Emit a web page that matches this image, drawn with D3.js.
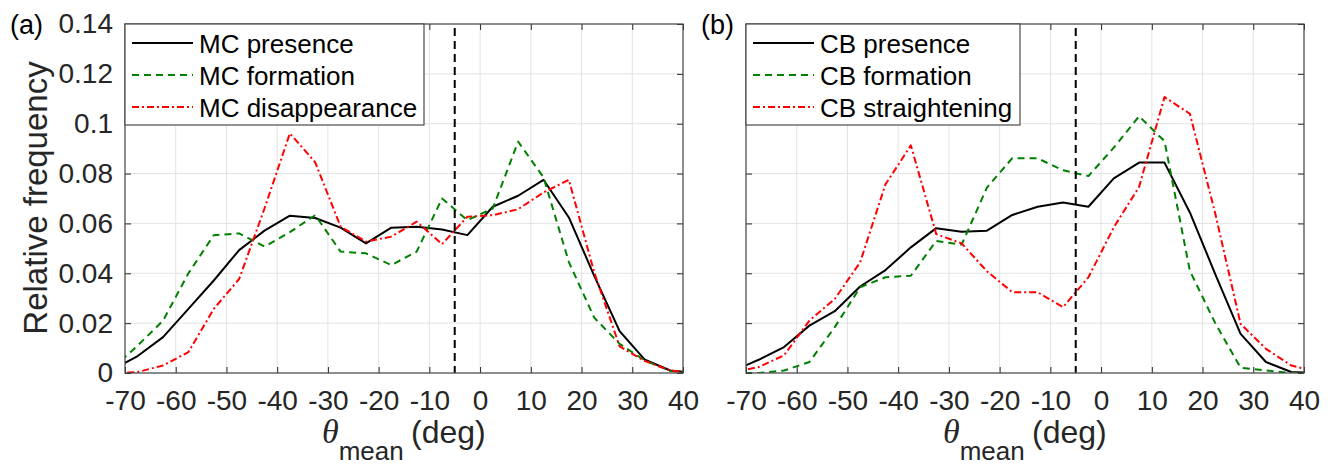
<!DOCTYPE html>
<html>
<head>
<meta charset="utf-8">
<script src="https://cdn.jsdelivr.net/npm/d3@7"></script>
<style>
  body { margin: 0; background: #fff; }
</style>
</head>
<body>
<svg id="chart" width="1337" height="465"></svg>
<script>
// bin centres (deg); first and last fall outside the axes and get clipped
const thetaBins = [-72.5, -67.5, -62.5, -57.5, -52.5, -47.5, -42.5, -37.5, -32.5, -27.5, -22.5, -17.5,
  -12.5, -7.5, -2.5, 2.5, 7.5, 12.5, 17.5, 22.5, 27.5, 32.5, 37.5, 42.5];

// panel (a)
const mcPresence = [0.0014, 0.0068, 0.0144, 0.0257, 0.0371, 0.0493, 0.0571, 0.0631, 0.0622, 0.0583, 0.0520, 0.0583,
  0.0587, 0.0576, 0.0553, 0.0667, 0.0711, 0.0775, 0.0624, 0.0390, 0.0168, 0.0053, 0.0010, 0];
const mcFormation = [0.0018, 0.0110, 0.0210, 0.0400, 0.0553, 0.0560, 0.0507, 0.0565, 0.0633, 0.0487, 0.0480, 0.0433,
  0.0487, 0.0700, 0.0613, 0.0660, 0.0928, 0.0785, 0.0445, 0.0222, 0.0117, 0.0050, 0.0008, 0];
const mcDisappearance = [0, 0.0004, 0.0030, 0.0084, 0.0257, 0.0377, 0.0660, 0.0961, 0.0845, 0.0587, 0.0527, 0.0547,
  0.0607, 0.0517, 0.0627, 0.0633, 0.0657, 0.0724, 0.0775, 0.0404, 0.0107, 0.0048, 0.0010, 0];

// panel (b)
const cbPresence = [0.0009, 0.0053, 0.0104, 0.0190, 0.0248, 0.0347, 0.0413, 0.0504, 0.0581, 0.0567, 0.0571, 0.0634,
  0.0667, 0.0684, 0.0667, 0.0781, 0.0844, 0.0844, 0.0644, 0.0397, 0.0157, 0.0044, 0.0004, 0];
const cbFormation = [0, 0, 0.0010, 0.0044, 0.0184, 0.0344, 0.0384, 0.0390, 0.0530, 0.0515, 0.0744, 0.0862,
  0.0861, 0.0813, 0.0790, 0.0904, 0.1030, 0.0930, 0.0410, 0.0200, 0.0021, 0.0010, 0, 0];
const cbStraightening = [0.0002, 0.0024, 0.0071, 0.0210, 0.0297, 0.0444, 0.0757, 0.0913, 0.0557, 0.0520, 0.0408, 0.0324,
  0.0324, 0.0264, 0.0384, 0.0584, 0.0747, 0.1107, 0.1040, 0.0640, 0.0197, 0.0097, 0.0030, 0.0004];

const mcNames = ["MC presence", "MC formation", "MC disappearance"];
const cbNames = ["CB presence", "CB formation", "CB straightening"];

const xTicks = [-70, -60, -50, -40, -30, -20, -10, 0, 10, 20, 30, 40];
const yTicks = [0, 0.02, 0.04, 0.06, 0.08, 0.1, 0.12, 0.14];
const markerTheta = -5;

const lineStyles = [
  { color: "#000000", dash: null },
  { color: "#008000", dash: "7,5" },
  { color: "#ff0000", dash: "7,3,2,3" },
];

const sans = "Arial, 'Liberation Sans', Helvetica, sans-serif";
const visWidth = 558;
const visHeight = 349;
const marginTop = 24;

const x = d3.scaleLinear().domain([-70, 40]).range([0, visWidth]);
const y = d3.scaleLinear().domain([0, 0.14]).range([visHeight, 0]);

const svg = d3.select("#chart").attr("font-family", sans);

function drawPanel(left, tag, names, series, showYLabels, legW) {
  const g = svg.append("g").attr("transform", `translate(${left},${marginTop})`);

  // grid
  g.append("g")
    .selectAll("line")
    .data(xTicks)
    .join("line")
    .attr("x1", (d) => x(d))
    .attr("x2", (d) => x(d))
    .attr("y1", 0)
    .attr("y2", visHeight)
    .attr("stroke", "#e3e3e3")
    .attr("stroke-width", 1);

  g.append("g")
    .selectAll("line")
    .data(yTicks)
    .join("line")
    .attr("x1", 0)
    .attr("x2", visWidth)
    .attr("y1", (d) => y(d))
    .attr("y2", (d) => y(d))
    .attr("stroke", "#e3e3e3")
    .attr("stroke-width", 1);

  // axes, ticks pointing inwards on all four sides
  const tickLen = 6;
  const fmtX = (d) => String(d);
  const fmtY = (d) => (d === 0 ? "0" : d3.format(".2~f")(d));

  const xAxis = g.append("g")
    .attr("transform", `translate(0,${visHeight})`)
    .call(d3.axisBottom(x).tickValues(xTicks).tickFormat(fmtX).tickSizeInner(-tickLen).tickSizeOuter(0));
  const xAxisTop = g.append("g")
    .call(d3.axisTop(x).tickValues(xTicks).tickFormat("").tickSizeInner(-tickLen).tickSizeOuter(0));
  const yAxis = g.append("g")
    .call(d3.axisLeft(y).tickValues(yTicks).tickFormat(showYLabels ? fmtY : "").tickSizeInner(-tickLen).tickSizeOuter(0).tickPadding(12));
  const yAxisRight = g.append("g")
    .attr("transform", `translate(${visWidth},0)`)
    .call(d3.axisRight(y).tickValues(yTicks).tickFormat("").tickSizeInner(-tickLen).tickSizeOuter(0));

  [xAxis, xAxisTop, yAxis, yAxisRight].forEach((a) => {
    a.attr("font-family", sans).attr("font-size", 28);
    a.selectAll(".domain").remove();
    a.selectAll("line").attr("stroke", "#262626").attr("stroke-width", 1);
    a.selectAll("text").attr("fill", "#262626");
  });
  xAxis.selectAll("text").attr("y", 17).attr("dy", "0.71em");

  // clip lines to the axes box
  svg.append("clipPath")
    .attr("id", "clip-" + tag)
    .append("rect")
    .attr("width", visWidth)
    .attr("height", visHeight);

  const lines = g.append("g").attr("clip-path", `url(#clip-${tag})`);

  const line = d3.line()
    .x((d) => x(d[0]))
    .y((d) => y(d[1]));

  series.forEach((vals, i) => {
    const pts = thetaBins.map((t, j) => [t, vals[j]]);
    lines.append("path")
      .datum(pts)
      .attr("d", line)
      .attr("fill", "none")
      .attr("stroke", lineStyles[i].color)
      .attr("stroke-width", 2)
      .attr("stroke-dasharray", lineStyles[i].dash)
      .attr("stroke-linejoin", "round");
  });

  // vertical reference line
  lines.append("line")
    .attr("x1", x(markerTheta))
    .attr("x2", x(markerTheta))
    .attr("y1", 4)
    .attr("y2", visHeight)
    .attr("stroke", "#000")
    .attr("stroke-width", 2)
    .attr("stroke-dasharray", "8,5");

  // box
  g.append("rect")
    .attr("width", visWidth)
    .attr("height", visHeight)
    .attr("fill", "none")
    .attr("stroke", "#4a4a4a")
    .attr("stroke-width", 1.2);

  // legend
  const legend = g.append("g");
  legend.append("rect")
    .attr("x", 0)
    .attr("y", 0)
    .attr("width", legW)
    .attr("height", 101)
    .attr("fill", "#fff")
    .attr("stroke", "#4a4a4a")
    .attr("stroke-width", 1.2);

  names.forEach((name, i) => {
    const yy = 19 + i * 32;
    legend.append("line")
      .attr("x1", 7)
      .attr("x2", 68)
      .attr("y1", yy)
      .attr("y2", yy)
      .attr("stroke", lineStyles[i].color)
      .attr("stroke-width", 2)
      .attr("stroke-dasharray", lineStyles[i].dash);
    legend.append("text")
      .attr("x", 74)
      .attr("y", yy + 10)
      .attr("font-size", 26)
      .attr("fill", "#000")
      .text(name);
  });

  // x label: theta_mean (deg)
  const xl = g.append("text")
    .attr("x", 197)
    .attr("y", 443 - marginTop)
    .attr("font-size", 32)
    .attr("fill", "#262626");
  xl.append("tspan")
    .style("font-family", "'Liberation Serif', 'DejaVu Serif', 'Times New Roman', serif")
    .style("font-style", "italic")
    .attr("font-size", 34)
    .text("θ");
  xl.append("tspan")
    .attr("dy", 17)
    .attr("font-size", 26)
    .text("mean");
  xl.append("tspan")
    .attr("x", 286)
    .attr("dy", -17)
    .text("(deg)");
}

drawPanel(125, "a", mcNames, [mcPresence, mcFormation, mcDisappearance], true, 299);
drawPanel(746, "b", cbNames, [cbPresence, cbFormation, cbStraightening], false, 274);

// panel tags
svg.append("text").attr("x", 10).attr("y", 34).attr("font-size", 27).attr("fill", "#000").text("(a)");
svg.append("text").attr("x", 701).attr("y", 34).attr("font-size", 27).attr("fill", "#000").text("(b)");

// y label
svg.append("text")
  .attr("transform", "translate(47,198) rotate(-90)")
  .attr("text-anchor", "middle")
  .attr("font-size", 33)
  .attr("fill", "#262626")
  .text("Relative frequency");
</script>
</body>
</html>
